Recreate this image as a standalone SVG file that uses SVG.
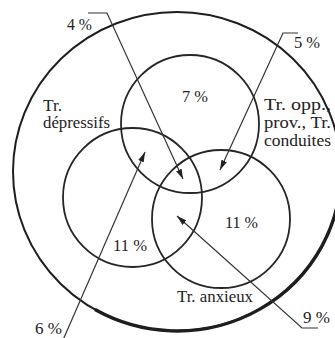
<svg xmlns="http://www.w3.org/2000/svg" width="335" height="338" viewBox="0 0 335 338">
<defs>
<style>
.c{fill:none;stroke:#262626;stroke-width:1.8}
.o{fill:none;stroke:#1e1e1e;stroke-width:2}
.ld{fill:none;stroke:#333;stroke-width:1.2}
text{font-family:"Liberation Serif","Times New Roman",serif;font-size:16px;fill:#222}
</style>
<marker id="ah" viewBox="0 0 10 6" refX="10" refY="3" markerWidth="10" markerHeight="6" markerUnits="userSpaceOnUse" orient="auto">
<path d="M0,0 L10,3 L0,6 z" fill="#222"/>
</marker>
</defs>
<rect width="335" height="338" fill="#fff"/>
<g id="outer">
<ellipse class="o" cx="177" cy="171.5" rx="164" ry="159.5"/>
<path d="M341 171.5 A164 159.5 0 0 1 95 309.6" fill="none" stroke="#1e1e1e" stroke-width="3.4"/>
</g>
<g id="opp">
<circle class="c" cx="190" cy="124" r="69"/>
<text x="264" y="110" textLength="67" lengthAdjust="spacingAndGlyphs">Tr. opp.,</text>
<text x="264" y="128" textLength="67" lengthAdjust="spacingAndGlyphs">prov., Tr.</text>
<text x="264" y="146" textLength="67" lengthAdjust="spacingAndGlyphs">conduites</text>
<text x="182" y="102" textLength="26" lengthAdjust="spacingAndGlyphs">7 %</text>
</g>
<g id="depressifs">
<circle class="c" cx="132.5" cy="197.5" r="69.5"/>
<text x="43" y="111" textLength="19" lengthAdjust="spacingAndGlyphs">Tr.</text>
<text x="43" y="128" textLength="67" lengthAdjust="spacingAndGlyphs">dépressifs</text>
<text x="113" y="251" textLength="34" lengthAdjust="spacingAndGlyphs">11 %</text>
</g>
<g id="anxieux">
<circle class="c" cx="221" cy="219" r="69"/>
<text x="177" y="302" textLength="76" lengthAdjust="spacingAndGlyphs">Tr. anxieux</text>
<text x="225" y="228" textLength="33" lengthAdjust="spacingAndGlyphs">11 %</text>
</g>
<g id="labels">
<text x="67" y="30" textLength="25" lengthAdjust="spacingAndGlyphs">4 %</text>
<text x="294" y="48" textLength="26" lengthAdjust="spacingAndGlyphs">5 %</text>
<text x="35" y="334" textLength="27" lengthAdjust="spacingAndGlyphs">6 %</text>
<text x="303" y="323" textLength="27" lengthAdjust="spacingAndGlyphs">9 %</text>
</g>
<g id="connectors">
<polyline class="ld" points="88,13 107,13 183,179" marker-end="url(#ah)"/>
<polyline class="ld" points="298,33 283,33 220,170" marker-end="url(#ah)"/>
<polyline class="ld" points="63,340 145,152" marker-end="url(#ah)"/>
<polyline class="ld" points="318,328 302,328 177,216" marker-end="url(#ah)"/>
</g>
</svg>
